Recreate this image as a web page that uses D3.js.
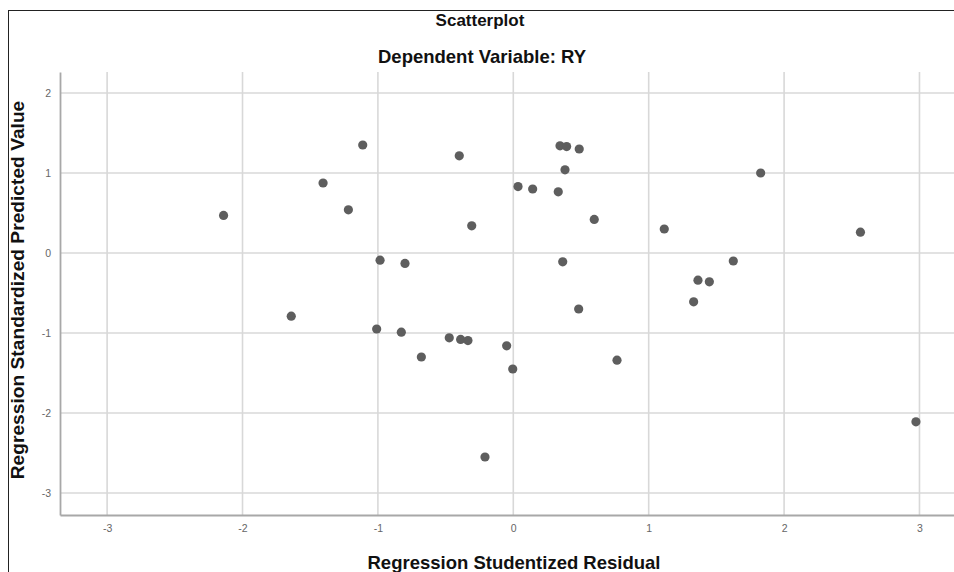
<!DOCTYPE html>
<html>
<head>
<meta charset="utf-8">
<script src="https://cdn.jsdelivr.net/npm/d3@7"></script>
<style>
  html, body { margin: 0; padding: 0; background: #fff; }
  svg { display: block; }
</style>
</head>
<body>
<svg id="chart" width="954" height="572"></svg>
<script>
// Data
const residuals = [-2.14, -1.64, -1.405, -1.218, -1.112, -0.984, -0.80, -0.399, -0.307, 0.035,
  0.345, 0.394, 0.487, 0.382, 0.143, 0.332, 0.598, 1.115, 1.827, 0.365,
  1.625, 1.364, 1.448, 1.332, 0.483, -1.009, -0.827, -0.679, -0.473, -0.389,
  -0.335, -0.049, -0.004, 0.766, -0.209, 2.564, 2.974];
const predicted = [0.47, -0.79, 0.875, 0.54, 1.35, -0.09, -0.13, 1.215, 0.34, 0.83,
  1.34, 1.33, 1.30, 1.04, 0.80, 0.765, 0.42, 0.30, 1.00, -0.11,
  -0.10, -0.34, -0.36, -0.61, -0.70, -0.95, -0.99, -1.30, -1.06, -1.08,
  -1.095, -1.16, -1.45, -1.34, -2.55, 0.26, -2.11];
const xTicks = [-3, -2, -1, 0, 1, 2, 3];
const yTicks = [-3, -2, -1, 0, 1, 2];
const titleText = "Scatterplot";
const subtitleText = "Dependent Variable: RY";
const xTitle = "Regression Studentized Residual";
const yTitle = "Regression Standardized Predicted Value";

const svg = d3.select("#chart");
const W = 954, H = 572;
const plot = { left: 60, right: 954, top: 72, bottom: 515 };

const x = d3.scaleLinear().domain([-3.348, 3.255]).range([plot.left, plot.right]);
const y = d3.scaleLinear().domain([-3.275, 2.2625]).range([plot.bottom, plot.top]);

const font = "'Liberation Sans', Arial, Helvetica, sans-serif";

// outer border (top and left visible)
svg.append("line").attr("x1", 8).attr("x2", W).attr("y1", 10.5).attr("y2", 10.5)
  .attr("stroke", "#222").attr("stroke-width", 1);
svg.append("line").attr("x1", 8.5).attr("x2", 8.5).attr("y1", 10).attr("y2", H)
  .attr("stroke", "#222").attr("stroke-width", 1);

// gridlines
const grid = svg.append("g");
grid.selectAll("line.v").data(xTicks).join("line")
  .attr("x1", d => x(d)).attr("x2", d => x(d))
  .attr("y1", plot.top).attr("y2", plot.bottom)
  .attr("stroke", "#d8d8d8").attr("stroke-width", 1.6);
grid.selectAll("line.h").data(yTicks).join("line")
  .attr("x1", plot.left).attr("x2", plot.right)
  .attr("y1", d => y(d)).attr("y2", d => y(d))
  .attr("stroke", "#d8d8d8").attr("stroke-width", 1.6);

// axes
const fmt = d => String(d);
const xAxis = d3.axisBottom(x).tickValues(xTicks).tickSize(0).tickPadding(10).tickFormat(fmt);
const yAxis = d3.axisLeft(y).tickValues(yTicks).tickSize(0).tickPadding(9).tickFormat(fmt);

const gx = svg.append("g").attr("transform", `translate(0,${plot.bottom})`).call(xAxis);
const gy = svg.append("g").attr("transform", `translate(${plot.left},0)`).call(yAxis);
[gx, gy].forEach(g => {
  g.select(".domain").attr("stroke", "#a8a8a8").attr("stroke-width", 1.8);
  g.selectAll("text").attr("fill", "#666").attr("font-size", 10.5).attr("font-family", font);
});

// points
svg.append("g").selectAll("circle").data(residuals).join("circle")
  .attr("cx", d => x(d))
  .attr("cy", (d, i) => y(predicted[i]))
  .attr("r", 4.6)
  .attr("fill", "#5e5e5e");

// titles
svg.append("text").attr("x", 480).attr("y", 26).attr("text-anchor", "middle")
  .attr("font-family", font).attr("font-weight", "bold").attr("font-size", 17)
  .attr("fill", "#111").text(titleText);
svg.append("text").attr("x", 482).attr("y", 63).attr("text-anchor", "middle")
  .attr("font-family", font).attr("font-weight", "bold").attr("font-size", 18.5)
  .attr("fill", "#111").text(subtitleText);
svg.append("text").attr("x", 514).attr("y", 569).attr("text-anchor", "middle")
  .attr("font-family", font).attr("font-weight", "bold").attr("font-size", 18.5)
  .attr("fill", "#111").text(xTitle);
svg.append("text").attr("transform", "translate(24,290) rotate(-90)").attr("text-anchor", "middle")
  .attr("font-family", font).attr("font-weight", "bold").attr("font-size", 19.2)
  .attr("fill", "#111").text(yTitle);
</script>
</body>
</html>
